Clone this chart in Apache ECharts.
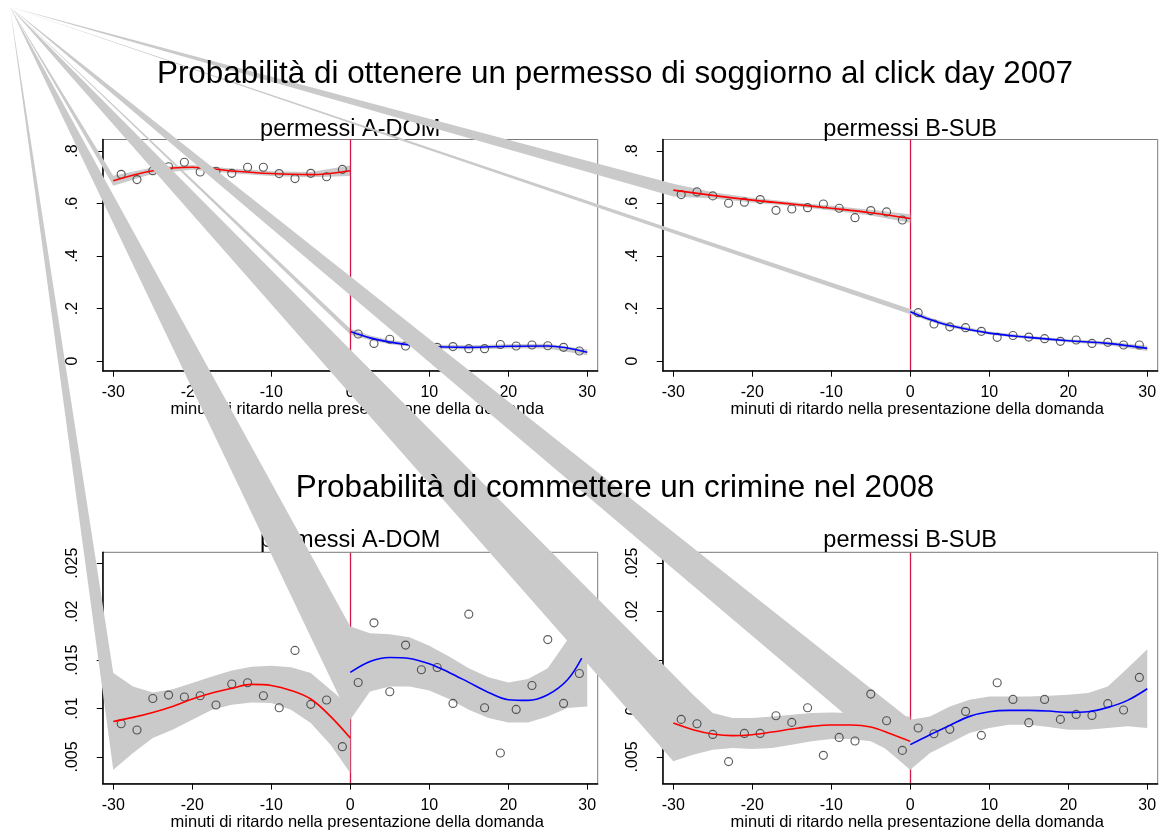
<!DOCTYPE html>
<html><head><meta charset="utf-8">
<script src="https://cdn.jsdelivr.net/npm/echarts@6/dist/echarts.min.js"></script>
<style>html,body{margin:0;padding:0;background:#fff}#c{width:1160px;height:832px}</style>
</head><body><div id="c"></div>
<script>
// ---------- data ----------
const mainTitleTop = 'Probabilità di ottenere un permesso di soggiorno al click day 2007';
const mainTitleBottom = 'Probabilità di commettere un crimine nel 2008';
const subTitles = ['permessi A-DOM', 'permessi B-SUB', 'permessi A-DOM', 'permessi B-SUB'];
const xAxisTitle = 'minuti di ritardo nella presentazione della domanda';

const xTicks = [-30, -20, -10, 0, 10, 20, 30];
const xTickLabels = ['-30', '-20', '-10', '0', '10', '20', '30'];
const topYTicks = [0, 0.2, 0.4, 0.6, 0.8];
const topYTickLabels = ['0', '.2', '.4', '.6', '.8'];
const botYTicks = [0.005, 0.01, 0.015, 0.02, 0.025];
const botYTickLabels = ['.005', '.01', '.015', '.02', '.025'];

// binned points (minutes)
const xLeft = [-29, -27, -25, -23, -21, -19, -17, -15, -13, -11, -9, -7, -5, -3, -1];
const xRight = [1, 3, 5, 7, 9, 11, 13, 15, 17, 19, 21, 23, 25, 27, 29];

const tlLeftY = [0.711, 0.691, 0.725, 0.740, 0.757, 0.720, 0.723, 0.715, 0.738, 0.738, 0.714, 0.695, 0.715, 0.702, 0.730];
const tlRightY = [0.103, 0.067, 0.083, 0.057, 0.055, 0.052, 0.055, 0.047, 0.047, 0.063, 0.057, 0.061, 0.058, 0.052, 0.038];
const trLeftY = [0.634, 0.644, 0.629, 0.601, 0.605, 0.615, 0.574, 0.579, 0.584, 0.598, 0.582, 0.546, 0.573, 0.568, 0.537];
const trRightY = [0.184, 0.141, 0.130, 0.127, 0.113, 0.090, 0.097, 0.091, 0.085, 0.075, 0.080, 0.067, 0.071, 0.061, 0.061];
const blLeftY = [0.00843, 0.00778, 0.01104, 0.01139, 0.01119, 0.01132, 0.01036, 0.01253, 0.01266, 0.01132, 0.01008, 0.0160, 0.01043, 0.01088, 0.00606];
const blRightY = [0.01269, 0.01885, 0.01173, 0.01655, 0.01400, 0.01424, 0.01053, 0.01974, 0.01008, 0.00541, 0.00991, 0.01238, 0.01712, 0.01053, 0.01362];
const brLeftY = [0.00888, 0.00843, 0.00733, 0.00452, 0.00743, 0.00743, 0.00926, 0.00857, 0.01008, 0.00517, 0.00702, 0.00665, 0.01149, 0.00874, 0.00568];
const brRightY = [0.00799, 0.0074, 0.00785, 0.0097, 0.00723, 0.01266, 0.01094, 0.00854, 0.01094, 0.00888, 0.00939, 0.00929, 0.0105, 0.00985, 0.01321];

// fitted curves and confidence bands
const topFitXL = [-30, -25, -20, -15, -10, -5, 0];
const topFitXR = [0, 2.5, 5, 10, 15, 20, 25, 30];
const tlFitL = [0.687, 0.725, 0.738, 0.724, 0.714, 0.710, 0.725];
const tlUpL = [0.706, 0.737, 0.747, 0.733, 0.723, 0.720, 0.745];
const tlLoL = [0.668, 0.713, 0.729, 0.715, 0.705, 0.700, 0.705];
const tlFitR = [0.112, 0.088, 0.072, 0.055, 0.052, 0.056, 0.057, 0.033];
const tlUpR = [0.123, 0.097, 0.080, 0.063, 0.060, 0.064, 0.066, 0.044];
const tlLoR = [0.101, 0.079, 0.064, 0.047, 0.044, 0.048, 0.048, 0.022];
const trFitL = [0.651, 0.631, 0.613, 0.598, 0.582, 0.565, 0.543];
const trUpL = [0.675, 0.643, 0.622, 0.606, 0.591, 0.576, 0.559];
const trLoL = [0.627, 0.619, 0.604, 0.590, 0.573, 0.554, 0.527];
const trFitR = [0.188, 0.158, 0.135, 0.106, 0.090, 0.077, 0.067, 0.048];
const trUpR = [0.198, 0.166, 0.142, 0.112, 0.096, 0.083, 0.074, 0.058];
const trLoR = [0.178, 0.150, 0.128, 0.100, 0.084, 0.071, 0.060, 0.038];

const botFitXL = [-30, -27.5, -25, -22.5, -20, -17.5, -15, -12.5, -10, -7.5, -5, -2.5, 0];
const botBandXR = [0, 2.5, 5, 7.5, 10, 12.5, 15, 17.5, 20, 22.5, 25, 27.5, 30];
const blFitXR = [0, 2.5, 5, 7.5, 10, 12.5, 15, 17.5, 20, 22.5, 25, 27.5, 29.3];
const blFitL = [0.00867, 0.00909, 0.0096, 0.01022, 0.01098, 0.0116, 0.01208, 0.01249, 0.01238, 0.01187, 0.01098, 0.00919, 0.00695];
const blUpL = [0.01366, 0.01228, 0.01166, 0.0120, 0.01263, 0.01331, 0.01393, 0.01431, 0.01441, 0.01427, 0.01366, 0.01194, 0.0102];
const blLoL = [0.00369, 0.0054, 0.00695, 0.00781, 0.00885, 0.00988, 0.01039, 0.01063, 0.01056, 0.00988, 0.0085, 0.00627, 0.00335];
const blFitR = [0.01373, 0.01486, 0.01527, 0.01517, 0.01462, 0.01373, 0.0127, 0.01166, 0.01091, 0.01084, 0.01142, 0.01297, 0.0152];
const blUpR = [0.01847, 0.01778, 0.01768, 0.01737, 0.01648, 0.01538, 0.01417, 0.01324, 0.0127, 0.01304, 0.01417, 0.01709, 0.02225];
const blLoR = [0.00885, 0.01176, 0.01228, 0.01228, 0.01187, 0.01098, 0.00988, 0.00902, 0.00857, 0.00857, 0.00919, 0.01005, 0.01022];
const brFitL = [0.0085, 0.00782, 0.00737, 0.0072, 0.0073, 0.00757, 0.00788, 0.00816, 0.0083, 0.0083, 0.00809, 0.0074, 0.00661];
const brUpL = [0.01349, 0.01142, 0.00953, 0.00902, 0.00902, 0.00919, 0.00936, 0.00953, 0.0096, 0.00953, 0.00936, 0.00919, 0.00919];
const brLoL = [0.00455, 0.00524, 0.00575, 0.00592, 0.00582, 0.00592, 0.00627, 0.00661, 0.00685, 0.00685, 0.00661, 0.00558, 0.00369];
const brFitR = [0.00627, 0.0073, 0.00826, 0.00919, 0.00967, 0.00981, 0.00981, 0.00974, 0.0096, 0.00967, 0.01012, 0.01084, 0.01204];
const brUpR = [0.00885, 0.00919, 0.01022, 0.01091, 0.01125, 0.01125, 0.01125, 0.01132, 0.01142, 0.0116, 0.01228, 0.01417, 0.01613];
const brLoR = [0.00369, 0.0054, 0.00644, 0.00747, 0.00799, 0.00833, 0.00833, 0.00809, 0.00781, 0.00781, 0.00799, 0.00816, 0.00799];

// ---------- styling / layout ----------
const FONT = '"Liberation Sans", Arial, sans-serif';
const BAND = '#cacaca';
const STREAK_APEX = [10, 7];
const XMIN = -31.34, XMAX = 31.32;
const TOP_Y = [-0.037, 0.8438], BOT_Y = [0.00225, 0.02613];

const panels = [
  { left: 102.7, top: 139.5, h: 231.2, yr: TOP_Y, yt: topYTicks, yl: topYTickLabels, nameGap: 30, sub: subTitles[0], subY: 130,
    pts: [xLeft.concat(xRight), tlLeftY.concat(tlRightY)],
    L: [topFitXL, tlFitL, topFitXL, tlUpL, tlLoL], R: [topFitXR, tlFitR, topFitXR, tlUpR, tlLoR] },
  { left: 662.7, top: 139.5, h: 231.2, yr: TOP_Y, yt: topYTicks, yl: topYTickLabels, nameGap: 30, sub: subTitles[1], subY: 130,
    pts: [xLeft.concat(xRight), trLeftY.concat(trRightY)],
    L: [topFitXL, trFitL, topFitXL, trUpL, trLoL], R: [topFitXR, trFitR, topFitXR, trUpR, trLoR] },
  { left: 102.7, top: 552.3, h: 231.7, yr: BOT_Y, yt: botYTicks, yl: botYTickLabels, nameGap: 28.5, sub: subTitles[2], subY: 541,
    pts: [xLeft.concat(xRight), blLeftY.concat(blRightY)],
    L: [botFitXL, blFitL, botFitXL, blUpL, blLoL], R: [blFitXR, blFitR, botBandXR, blUpR, blLoR] },
  { left: 662.7, top: 552.3, h: 231.7, yr: BOT_Y, yt: botYTicks, yl: botYTickLabels, nameGap: 28.5, sub: subTitles[3], subY: 541,
    pts: [xLeft.concat(xRight), brLeftY.concat(brRightY)],
    L: [botFitXL, brFitL, botFitXL, brUpL, brLoL], R: [botBandXR, brFitR, botBandXR, brUpR, brLoR] }
];

function zip(xs, ys) { return xs.map((x, i) => [x, ys[i]]); }
function labelFor(ticks, labels) {
  return function (v) {
    for (let i = 0; i < ticks.length; i++) if (Math.abs(ticks[i] - v) < 1e-9) return labels[i];
    return '';
  };
}

function bandSeries(gi, z, bx, up, lo, withLine) {
  const s = {
    type: 'custom', xAxisIndex: gi, yAxisIndex: gi, z: z, clip: false, silent: true,
    data: [[bx[0], up[0]]],
    renderItem: function (params, api) {
      const pts = [STREAK_APEX.slice()];
      for (let i = 0; i < bx.length; i++) pts.push(api.coord([bx[i], up[i]]));
      for (let i = bx.length - 1; i >= 0; i--) pts.push(api.coord([bx[i], lo[i]]));
      return { type: 'polygon', shape: { points: pts }, style: { fill: BAND, stroke: null } };
    }
  };
  if (withLine) {
    s.markLine = {
      silent: true, symbol: ['none', 'none'], label: { show: false }, animation: false,
      lineStyle: { color: '#d2184a', width: 1.3, type: 'solid' },
      emphasis: { disabled: true },
      data: [{ xAxis: 0 }]
    };
  }
  return s;
}

const grid = [], xAxis = [], yAxis = [], series = [], graphics = [];
panels.forEach((p, gi) => {
  const base = 1 + gi * 4;
  grid.push({ left: p.left, top: p.top, width: 495, height: p.h, show: true, z: base,
    borderColor: '#7a7a7a', borderWidth: 1, backgroundColor: 'rgba(0,0,0,0)' });
  xAxis.push({
    type: 'value', gridIndex: gi, min: XMIN, max: XMAX, z: base,
    name: xAxisTitle, nameLocation: 'middle', nameGap: p.nameGap,
    nameTextStyle: { fontSize: 16.5, color: '#000', fontFamily: FONT, padding: [0, 0, 0, 14] },
    axisLine: { show: true, onZero: false, lineStyle: { color: '#000', width: 1.5 } },
    axisTick: { show: true, customValues: xTicks, length: 6, lineStyle: { color: '#000', width: 1 } },
    axisLabel: { customValues: xTicks, formatter: labelFor(xTicks, xTickLabels), margin: 13.5,
      fontSize: 16, color: '#000', fontFamily: FONT },
    splitLine: { show: false }
  });
  yAxis.push({
    type: 'value', gridIndex: gi, min: p.yr[0], max: p.yr[1], z: base,
    axisLine: { show: true, onZero: false, lineStyle: { color: '#000', width: 1.5 } },
    axisTick: { show: true, customValues: p.yt, length: 6, lineStyle: { color: '#000', width: 1 } },
    axisLabel: { customValues: p.yt, formatter: labelFor(p.yt, p.yl), rotate: 90, margin: 22,
      fontSize: 16, color: '#000', fontFamily: FONT },
    splitLine: { show: false }
  });
  series.push(bandSeries(gi, base + 1, p.L[2], p.L[3], p.L[4], true));
  series.push(bandSeries(gi, base + 1, p.R[2], p.R[3], p.R[4], false));
  series.push({
    type: 'scatter', xAxisIndex: gi, yAxisIndex: gi, z: base + 2, silent: true,
    symbol: 'circle', symbolSize: 8,
    itemStyle: { color: 'rgba(255,255,255,0)', borderColor: '#333333', borderWidth: 1.15 },
    data: zip(p.pts[0], p.pts[1])
  });
  series.push({
    type: 'line', xAxisIndex: gi, yAxisIndex: gi, z: base + 3, silent: true, smooth: 0.35,
    showSymbol: false, lineStyle: { color: '#ff0000', width: 1.6 }, data: zip(p.L[0], p.L[1])
  });
  series.push({
    type: 'line', xAxisIndex: gi, yAxisIndex: gi, z: base + 3, silent: true, smooth: 0.35,
    showSymbol: false, lineStyle: { color: '#0000ff', width: 1.6 }, data: zip(p.R[0], p.R[1])
  });
  graphics.push({ type: 'text', x: p.left + 247.5, y: p.subY, z: base, silent: true,
    style: { text: p.sub, fontSize: 23.5, fontFamily: FONT, fill: '#000', textAlign: 'center', textVerticalAlign: 'middle' } });
});
graphics.push({ type: 'text', x: 615, y: 74.5, z: 50, silent: true,
  style: { text: mainTitleTop, fontSize: 31.4, fontFamily: FONT, fill: '#000', textAlign: 'center', textVerticalAlign: 'middle' } });
graphics.push({ type: 'text', x: 615, y: 488, z: 50, silent: true,
  style: { text: mainTitleBottom, fontSize: 31.4, fontFamily: FONT, fill: '#000', textAlign: 'center', textVerticalAlign: 'middle' } });

const chart = echarts.init(document.getElementById('c'), null, { renderer: 'canvas' });
chart.setOption({
  animation: false,
  backgroundColor: '#ffffff',
  grid: grid, xAxis: xAxis, yAxis: yAxis, series: series,
  graphic: { elements: graphics }
});
</script>
</body></html>
